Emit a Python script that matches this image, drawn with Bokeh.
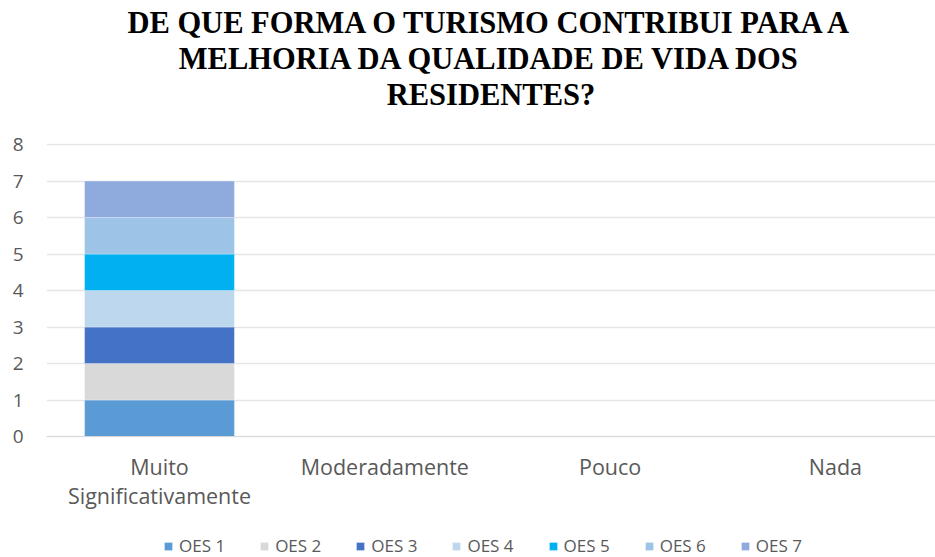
from bokeh.plotting import figure
from bokeh.models import Range1d, FixedTicker, Title, Legend, LegendItem
from bokeh.embed import file_html
from bokeh.resources import INLINE

categories = ["Muito\nSignificativamente", "Moderadamente", "Pouco", "Nada"]
series = ["OES 1", "OES 2", "OES 3", "OES 4", "OES 5", "OES 6", "OES 7"]
values = {
    "OES 1": [1, 0, 0, 0],
    "OES 2": [1, 0, 0, 0],
    "OES 3": [1, 0, 0, 0],
    "OES 4": [1, 0, 0, 0],
    "OES 5": [1, 0, 0, 0],
    "OES 6": [1, 0, 0, 0],
    "OES 7": [1, 0, 0, 0],
}
colors = ["#5B9BD5", "#D9D9D9", "#4472C4", "#BDD7EE", "#00B0F0", "#9DC3E6", "#8FAADC"]
y_ticks = [0, 1, 2, 3, 4, 5, 6, 7, 8]
title_lines = ["DE QUE FORMA O TURISMO CONTRIBUI PARA A",
               "MELHORIA DA QUALIDADE DE VIDA DOS",
               "RESIDENTES?"]

xs = list(range(len(categories)))
data = {"x": xs}
data.update(values)

# the frame extends to the bottom of the picture so the legend can sit inside it;
# the x axis is pinned at y = 0
p = figure(frame_width=889, frame_height=414, output_backend="svg", toolbar_location=None,
           x_range=Range1d(-0.5015, 3.444), y_range=Range1d(-3.315, 8.03),
           min_border_left=46, min_border_right=0, min_border_top=143, min_border_bottom=0,
           title=None)
p.outline_line_color = None

renderers = p.vbar_stack(series, x="x", width=0.665, source=data, color=colors,
                         line_color="white", line_width=0.5, line_alpha=0.6)

# spacer between frame and title block
p.add_layout(Title(text="\u00a0", text_font="Liberation Serif", text_font_size="27px",
                   standoff=0), "above")
for t in reversed(title_lines):
    p.add_layout(Title(text=t, align="center", text_font="Liberation Serif",
                       text_font_style="bold", text_font_size="30.5px",
                       text_color="#000000", standoff=0), "above")

p.xaxis.fixed_location = 0
p.xaxis.ticker = FixedTicker(ticks=xs)
p.xaxis.major_label_overrides = {i: c for i, c in enumerate(categories)}
p.xaxis.major_tick_line_color = None
p.xaxis.minor_tick_line_color = None
p.xaxis.axis_line_color = "#D9D9D9"
p.xaxis.major_label_text_font = "Open Sans"
p.xaxis.major_label_text_font_size = "21.5px"
p.xaxis.major_label_text_line_height = 1.0
p.xaxis.major_label_text_color = "#595959"
p.xaxis.major_label_standoff = 9

p.yaxis.ticker = FixedTicker(ticks=y_ticks)
p.yaxis.major_tick_line_color = None
p.yaxis.minor_tick_line_color = None
p.yaxis.axis_line_color = None
p.yaxis.major_label_text_font = "Open Sans"
p.yaxis.major_label_text_font_size = "19px"
p.yaxis.major_label_text_color = "#595959"
p.yaxis.major_label_standoff = 17

p.xgrid.grid_line_color = None
p.ygrid.ticker = FixedTicker(ticks=y_ticks)
p.ygrid.grid_line_color = "#E6E6E6"
p.ygrid.grid_line_width = 1.5

legend = Legend(items=[LegendItem(label=s, renderers=[r]) for s, r in zip(series, renderers)],
                orientation="horizontal", location=(117, 0),
                glyph_width=10, glyph_height=10, label_standoff=6, spacing=34,
                label_text_font="Open Sans", label_text_font_size="17px",
                label_text_color="#595959", border_line_color=None,
                background_fill_alpha=0, padding=0, margin=0)
p.add_layout(legend, "center")

open("out.html", "w").write(file_html(p, INLINE))
